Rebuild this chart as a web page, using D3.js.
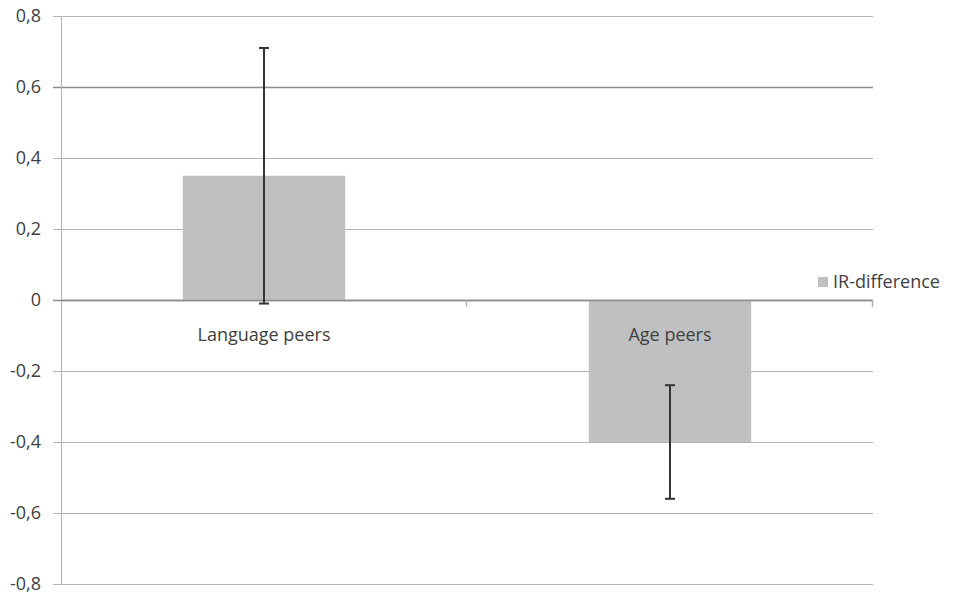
<!DOCTYPE html>
<html>
<head>
<meta charset="utf-8">
<script src="https://cdn.jsdelivr.net/npm/d3@7"></script>
<style>
  body { margin: 0; background: #fff; }
  text { font-family: "Open Sans", sans-serif; fill: #404040; }
</style>
</head>
<body>
<svg id="chart" width="953" height="594"></svg>
<script>
// data
const categories = ["Language peers", "Age peers"]
const values = [0.35, -0.40]
const errLow = [-0.01, -0.56]
const errHigh = [0.71, -0.24]
const yTicks = [0.8, 0.6, 0.4, 0.2, 0, -0.2, -0.4, -0.6, -0.8]
const seriesName = "IR-difference"

const svg = d3.select("#chart")
const plotLeft = 61, plotRight = 873, plotTop = 16, plotBottom = 584

const x = d3.scaleBand()
    .domain(categories)
    .range([plotLeft, plotRight])
    .paddingInner(0)
    .paddingOuter(0)

const y = d3.scaleLinear()
    .domain([-0.8, 0.8])
    .range([plotBottom, plotTop])

const fmt = d => d === 0 ? "0" : d3.format(".1f")(d).replace(".", ",").replace("−", "-")

// gridlines
svg.append("g")
    .selectAll("line")
    .data(yTicks)
    .join("line")
    .attr("x1", plotLeft - 8)
    .attr("x2", plotRight)
    .attr("y1", d => Math.round(y(d)) + 0.5)
    .attr("y2", d => Math.round(y(d)) + 0.5)
    .style("stroke", d => (d === 0.6 || d === 0) ? "#8c8c8c" : "#b4b4b4")
    .style("stroke-width", d => (d === 0.6 || d === 0) ? 1.5 : 1)

// y axis line
svg.append("line")
    .attr("x1", plotLeft + 0.5).attr("x2", plotLeft + 0.5)
    .attr("y1", plotTop).attr("y2", plotBottom)
    .style("stroke", "#b4b4b4")

// tick labels
svg.append("g")
    .selectAll("text")
    .data(yTicks)
    .join("text")
    .attr("x", 41)
    .attr("y", d => y(d))
    .attr("dy", "0.35em")
    .attr("text-anchor", "end")
    .style("font-size", "18px")
    .text(fmt)

// bars
svg.append("g")
    .selectAll("rect")
    .data(categories)
    .join("rect")
    .attr("x", d => x(d) + x.bandwidth() * 0.3)
    .attr("width", x.bandwidth() * 0.4)
    .attr("y", (d, i) => y(Math.max(0, values[i])))
    .attr("height", (d, i) => Math.abs(y(values[i]) - y(0)))
    .style("fill", "#bfc0c2")

// zero line drawn above bars with category ticks
svg.append("line")
    .attr("x1", plotLeft).attr("x2", plotRight)
    .attr("y1", Math.round(y(0)) + 0.5).attr("y2", Math.round(y(0)) + 0.5)
    .style("stroke", "#8c8c8c")
    .style("stroke-width", 1.5)

const bounds = categories.map(d => x(d)).concat([plotRight])
svg.append("g")
    .selectAll("line")
    .data(bounds.slice(1))
    .join("line")
    .attr("x1", d => d - 0.5).attr("x2", d => d - 0.5)
    .attr("y1", y(0)).attr("y2", y(0) + 7)
    .style("stroke", "#b4b4b4")
    .style("stroke-width", 1.5)

// error bars
const eb = svg.append("g").style("stroke", "#333").style("stroke-width", 2)
categories.forEach((c, i) => {
    const cx = x(c) + x.bandwidth() / 2
    eb.append("line")
        .attr("x1", cx).attr("x2", cx)
        .attr("y1", y(errHigh[i])).attr("y2", y(errLow[i]))
    eb.append("line")
        .attr("x1", cx - 5).attr("x2", cx + 5)
        .attr("y1", y(errHigh[i])).attr("y2", y(errHigh[i]))
    eb.append("line")
        .attr("x1", cx - 5).attr("x2", cx + 5)
        .attr("y1", y(errLow[i])).attr("y2", y(errLow[i]))
})

// category labels
svg.append("g")
    .selectAll("text")
    .data(categories)
    .join("text")
    .attr("x", d => x(d) + x.bandwidth() / 2)
    .attr("y", y(0) + 35)
    .attr("dy", "0.35em")
    .attr("text-anchor", "middle")
    .style("font-size", "18px")
    .text(d => d)

// legend
svg.append("rect")
    .attr("x", 818).attr("y", 277)
    .attr("width", 10).attr("height", 10)
    .style("fill", "#bfc0c2")
svg.append("text")
    .attr("x", 833).attr("y", 282)
    .attr("dy", "0.35em")
    .style("font-size", "18px")
    .text(seriesName)
</script>
</body>
</html>
